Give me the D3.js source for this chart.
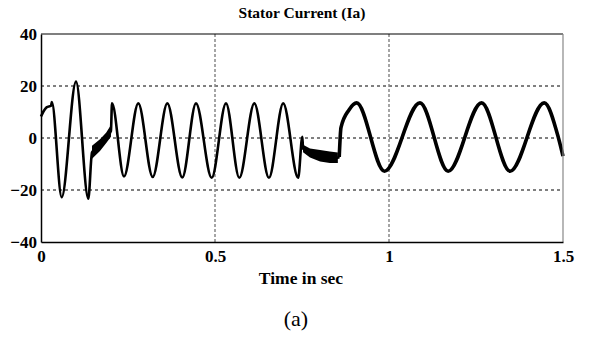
<!DOCTYPE html>
<html>
<head>
<meta charset="utf-8">
<script src="https://cdn.jsdelivr.net/npm/d3@7"></script>
<style>
  html, body { margin: 0; padding: 0; background: #fff; }
  svg { display: block; }
</style>
</head>
<body>
<div id="chart"></div>
<script>
// values
const timeTicks = [0, 0.5, 1, 1.5];
const timeTickLabels = ['0', '0.5', '1', '1.5'];
const currentTicks = [-40, -20, 0, 20, 40];
const gridCurrent = [-20, 0, 20];
const gridTime = [0.5, 1];

const waveTime = [
  0, 0.007, 0.016, 0.029, 0.031, 0.0595, 0.1006, 0.136, 0.1466, 0.1695, 0.187, 0.201,
  0.204, 0.2385, 0.2796, 0.321, 0.363, 0.406, 0.4454, 0.4905, 0.5316, 0.5698, 0.613,
  0.655, 0.696, 0.739, 0.751, 0.753, 0.773, 0.802, 0.830, 0.853, 0.857, 0.862, 0.885,
  0.907, 0.987, 1.089, 1.170, 1.266, 1.348, 1.446, 1.487, 1.5
];
const waveCurrent = [
  8.3, 10.2, 11.8, 12.4, 13.8, -22.8, 21.7, -23.3, -5.5, -2.7, 0, 2.8,
  13.3, -14.8, 13.3, -15, 13.3, -15.2, 13.3, -15.3, 13.3, -15.3, 13.3,
  -15.3, 13.3, -15.3, 0.5, -4, -5.8, -6.8, -7.4, -7.6, -7.3, 4, 10.8,
  13.5, -12.8, 13.5, -12.8, 13.5, -12.8, 13.5, 0, -7
];
// the slow part after the second step carries a heavier ripple
const slowStart = 0.857;

// thick ripple bands (upper / lower envelope)
const rippleTime1 = [0.1466, 0.1695, 0.187, 0.201];
const rippleHigh1 = [-3, -0.5, 2, 5];
const rippleLow1 = [-8, -5, -2, 0.5];
const rippleTime2 = [0.753, 0.773, 0.802, 0.830, 0.853];
const rippleHigh2 = [-2.6, -4, -4.6, -5.2, -5.6];
const rippleLow2 = [-5.5, -7.5, -9, -9.6, -9.6];

const outerWidth = 590;
const outerHeight = 338;
const margin = {top: 34, right: 27, bottom: 96, left: 41};
const width = outerWidth - margin.left - margin.right;
const height = outerHeight - margin.top - margin.bottom;
const serif = '"Liberation Serif", "Times New Roman", serif';

const svg = d3.select('#chart')
  .append('svg')
  .attr('width', outerWidth)
  .attr('height', outerHeight);

const g = svg.append('g')
  .attr('transform', 'translate(' + margin.left + ',' + margin.top + ')');

const x = d3.scaleLinear().domain([0, 1.5]).range([0, width]);
const y = d3.scaleLinear().domain([-40, 40]).range([height, 0]);

// grid
g.append('g')
  .selectAll('line')
  .data(gridCurrent)
  .enter()
  .append('line')
  .attr('x1', 0)
  .attr('x2', width)
  .attr('y1', d => y(d))
  .attr('y2', d => y(d))
  .attr('stroke', '#000')
  .attr('stroke-width', 1)
  .attr('stroke-dasharray', '3,3');

g.append('g')
  .selectAll('line')
  .data(gridTime)
  .enter()
  .append('line')
  .attr('x1', d => x(d))
  .attr('x2', d => x(d))
  .attr('y1', 0)
  .attr('y2', height)
  .attr('stroke', '#888')
  .attr('stroke-width', 1.5)
  .attr('stroke-dasharray', '3,2');

// ripple bands
const band = d3.area()
  .x(d => x(d[0]))
  .y0(d => y(d[2]))
  .y1(d => y(d[1]));

[[rippleTime1, rippleHigh1, rippleLow1], [rippleTime2, rippleHigh2, rippleLow2]].forEach(r => {
  g.append('path')
    .attr('d', band(r[0].map((t, i) => [t, r[1][i], r[2][i]])))
    .attr('fill', '#000');
});

// waveform
const line = d3.line()
  .x(d => x(d[0]))
  .y(d => y(d[1]))
  .curve(d3.curveMonotoneX);

const wave = waveTime.map((t, i) => [t, waveCurrent[i]]);

g.append('path')
  .attr('d', line(wave.filter(d => d[0] <= slowStart)))
  .attr('fill', 'none')
  .attr('stroke', '#000')
  .attr('stroke-width', 2.6)
  .attr('stroke-linejoin', 'round');

g.append('path')
  .attr('d', line(wave.filter(d => d[0] >= slowStart)))
  .attr('fill', 'none')
  .attr('stroke', '#000')
  .attr('stroke-width', 3.6)
  .attr('stroke-linejoin', 'round');

// frame
g.append('line').attr('x1', 0).attr('x2', width).attr('y1', 0).attr('y2', 0)
  .attr('stroke', '#000').attr('stroke-width', 1.2);
g.append('line').attr('x1', width).attr('x2', width).attr('y1', 0).attr('y2', height)
  .attr('stroke', '#888').attr('stroke-width', 1.2);

// axes
const xAxis = g.append('g')
  .attr('transform', 'translate(0,' + height + ')')
  .call(d3.axisBottom(x).tickValues(timeTicks).tickSize(0).tickPadding(8)
    .tickFormat((d, i) => timeTickLabels[i]));

const yAxis = g.append('g')
  .call(d3.axisLeft(y).tickValues(currentTicks).tickSize(0).tickPadding(4));

[xAxis, yAxis].forEach(a => {
  a.select('.domain').attr('stroke', '#000').attr('stroke-width', 1.5);
  a.selectAll('text')
    .attr('fill', '#000')
    .style('font-family', serif)
    .style('font-weight', 'bold')
    .style('font-size', '17px');
});

// titles
svg.append('text')
  .attr('x', 302)
  .attr('y', 18)
  .attr('text-anchor', 'middle')
  .style('font-family', serif)
  .style('font-weight', 'bold')
  .style('font-size', '15.5px')
  .text('Stator Current (Ia)');

svg.append('text')
  .attr('x', 301)
  .attr('y', 284)
  .attr('text-anchor', 'middle')
  .style('font-family', serif)
  .style('font-weight', 'bold')
  .style('font-size', '17.5px')
  .text('Time in sec');

svg.append('text')
  .attr('x', 296)
  .attr('y', 326)
  .attr('text-anchor', 'middle')
  .style('font-family', serif)
  .style('font-size', '22px')
  .text('(a)');
</script>
</body>
</html>
